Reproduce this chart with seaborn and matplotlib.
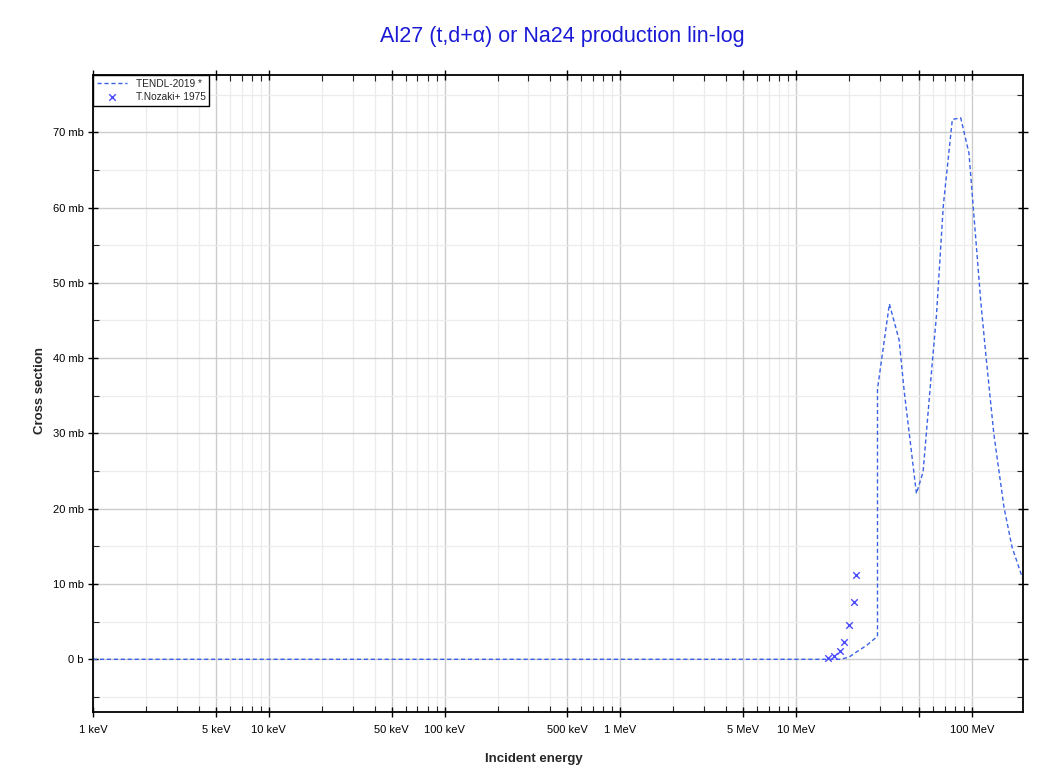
import numpy as np
import pandas as pd
import matplotlib
matplotlib.use("Agg")
import matplotlib.pyplot as plt
import seaborn as sns
from matplotlib.ticker import FixedLocator, FixedFormatter, MultipleLocator

# TENDL-2019 evaluated curve (energy in MeV, cross section in mb)
tendl_energy = [0.001, 1.0, 10.0, 17.9, 20.0, 22.0, 25.0, 29.0, 29.0, 33.9, 38.5, 41.1, 44.9,
                48.3, 52.7, 59.6, 62.7, 68.7, 77.3, 86.3, 96.1, 112.0, 119.7, 133.0,
                152.0, 169.0, 193.0, 200.0]
tendl_xs = [0.0, 0.0, 0.0, 0.0, 0.3, 0.97, 1.8, 3.05, 35.9, 47.2, 42.4, 35.7, 28.2,
            22.0, 24.9, 39.7, 45.5, 60.3, 71.7, 71.9, 67.2, 47.7, 40.6, 30.0,
            20.2, 14.9, 10.9, 10.2]

# T.Nozaki+ 1975 measured points
exp_energy = [15.07, 16.4, 17.7, 18.8, 20.0, 21.2, 22.0]
exp_xs = [0.17, 0.44, 1.1, 2.3, 4.5, 7.6, 11.2]

x_tick_vals = [0.001, 0.005, 0.01, 0.05, 0.1, 0.5, 1, 5, 10, 50, 100]
x_tick_labels = ["1 keV", "5 keV", "10 keV", "50 keV", "100 keV", "500 keV",
                 "1 MeV", "5 MeV", "10 MeV", "", "100 MeV"]
y_tick_vals = [0, 10, 20, 30, 40, 50, 60, 70]
y_tick_labels = ["0 b", "10 mb", "20 mb", "30 mb", "40 mb", "50 mb", "60 mb", "70 mb"]

sns.set_theme(style="white")
plt.rcParams['font.family'] = ['Liberation Sans', 'DejaVu Sans']

fig = plt.figure(figsize=(10.53, 7.73), dpi=100)
ax = fig.add_axes([0.0883, 0.0789, 0.9715 - 0.0883, 0.903 - 0.0789])

df_line = pd.DataFrame({"E": tendl_energy, "xs": tendl_xs})
df_pts = pd.DataFrame({"E": exp_energy, "xs": exp_xs})

ax.set_xscale("log")
sns.lineplot(data=df_line, x="E", y="xs", ax=ax, color="#3a62e6", lw=1.0,
             linestyle=(0, (3, 2)), sort=False, label="TENDL-2019 *", estimator=None)
sns.scatterplot(data=df_pts, x="E", y="xs", ax=ax, marker="x", color="#4b4bff",
                s=22, linewidth=1.0, label="T.Nozaki+ 1975", zorder=4)

ax.set_xlim(0.001, 195)
ax.set_ylim(-7.0, 77.6)

# grid
minor_x = []
for dec in range(-3, 3):
    for m in range(2, 10):
        v = m * 10.0 ** dec
        if v < 195 and m != 5:
            minor_x.append(v)
ax.xaxis.set_major_locator(FixedLocator(x_tick_vals))
ax.xaxis.set_major_formatter(FixedFormatter(x_tick_labels))
ax.xaxis.set_minor_locator(FixedLocator(minor_x))
ax.xaxis.set_minor_formatter(FixedFormatter([""] * len(minor_x)))
ax.yaxis.set_major_locator(FixedLocator(y_tick_vals))
ax.yaxis.set_major_formatter(FixedFormatter(y_tick_labels))
ax.yaxis.set_minor_locator(MultipleLocator(5))

ax.grid(which="major", color="#cccccc", lw=1.0)
ax.grid(which="minor", color="#ececec", lw=0.9)
ax.set_axisbelow(True)

for s in ax.spines.values():
    s.set_color("black")
    s.set_linewidth(1.3)

ax.tick_params(axis="both", which="major", labelsize=8, colors="black",
               direction="inout", length=7, width=1.0)
ax.tick_params(axis="both", which="minor", direction="in", length=4, width=0.8)
ax.tick_params(axis="x", which="major", pad=6)
ax.tick_params(axis="y", which="major", pad=3)
ax.tick_params(bottom=True, left=True, top=True, right=True, which="both")
ax.tick_params(labeltop=False, labelright=False, labelbottom=True, labelleft=True)

ax.set_xlabel("Incident energy", fontsize=9.5, fontweight="bold")
ax.xaxis.set_label_coords(0.474, -0.065)
ax.set_ylabel("Cross section", fontsize=9.5, fontweight="bold")
ax.yaxis.set_label_coords(-0.050, 0.505)
fig.suptitle("Al27 (t,d+α) or Na24 production lin-log", fontsize=15.5,
             color="#1a1ad6", y=0.966, x=0.534)

leg = ax.legend(loc="upper left", fontsize=7.3, frameon=True, fancybox=False,
                borderaxespad=0, handlelength=3, borderpad=0.4, labelspacing=0.25)
leg.get_frame().set_edgecolor("black")
leg.get_frame().set_linewidth(1.0)
leg.get_frame().set_alpha(1)

fig.savefig("out.png", dpi=100)
